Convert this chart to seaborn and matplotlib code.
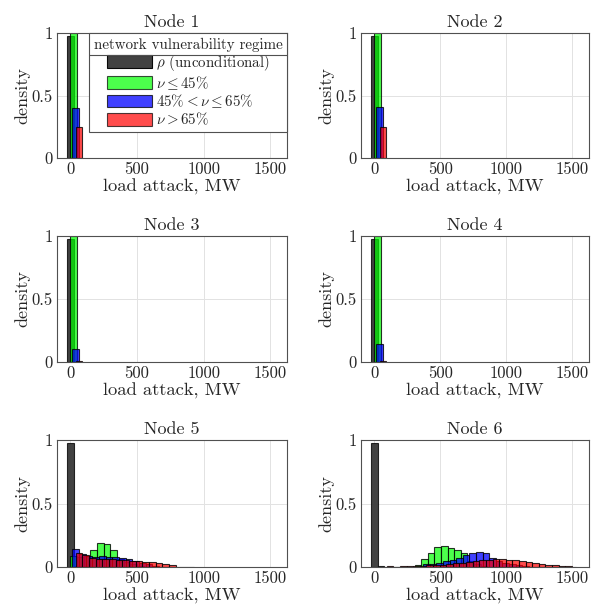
import numpy as np
import pandas as pd
import matplotlib
matplotlib.use("Agg")
import matplotlib.pyplot as plt
from matplotlib.patches import Patch
from matplotlib.lines import Line2D
import seaborn as sns

sns.set_style("whitegrid")
plt.rcParams["font.family"] = ["cmr10", "DejaVu Serif"]
plt.rcParams["mathtext.fontset"] = "cm"
plt.rcParams["axes.formatter.use_mathtext"] = True

# ---------------- data ----------------
BIN_W = 50
node_titles = ["Node 1", "Node 2", "Node 3", "Node 4", "Node 5", "Node 6"]
series_labels = [r"$\rho$ (unconditional)", r"$\nu \leq 45\%$",
                 r"$45\% < \nu \leq 65\%$", r"$\nu > 65\%$"]
legend_title = "network vulnerability regime"
x_ticks = [0, 500, 1000, 1500]
x_tick_labels = ["0", "500", "1000", "1500"]
y_ticks = [0, 0.5, 1]
y_tick_labels = ["0", "0.5", "1"]

# first bin left edge (MW) per node, and bin heights (probability)
gray_start = [-25, -25, -25, -25, -25, -25]
gray_vals = [
    [0.98], [0.98], [0.98], [0.98],
    [0.98, 0.006, 0.004, 0.003, 0.003, 0.003, 0.002, 0.002, 0.002, 0.002,
     0.002, 0.002, 0.002, 0.002, 0.002, 0.002, 0.002, 0.002, 0.002],
    [0.98, 0.008, 0.003, 0.002, 0.002, 0.002, 0.002, 0.002, 0.002, 0.002,
     0.002, 0.002, 0.002, 0.002, 0.002, 0.002, 0.002, 0.002, 0.002, 0.002,
     0.002, 0.002, 0.002, 0.002, 0.002, 0.002, 0.002, 0.002, 0.002, 0.002,
     0.002],
]
green_start = [0, 0, 0, 0, 0, 305]
green_vals = [
    [1.0], [1.0], [1.0], [1.0],
    [0.084, 0.08, 0.09, 0.137, 0.19, 0.185, 0.137, 0.06, 0.04, 0.02, 0.01],
    [0.015, 0.066, 0.11, 0.158, 0.163, 0.15, 0.137, 0.11, 0.05, 0.02, 0.01],
]
blue_start = [15, 15, 15, 15, 15, 370]
blue_vals = [
    [0.40], [0.41], [0.105], [0.14],
    [0.14, 0.103, 0.084, 0.076, 0.09, 0.082, 0.076, 0.068, 0.063, 0.045,
     0.03, 0.02, 0.01],
    [0.02, 0.025, 0.035, 0.045, 0.055, 0.07, 0.095, 0.108, 0.117, 0.112,
     0.07, 0.05, 0.035, 0.025, 0.015, 0.008],
]
red_start = [40, 40, 40, 40, 40, 95]
red_vals = [
    [0.25], [0.25], [0.008], [0.006],
    [0.113, 0.092, 0.074, 0.066, 0.063, 0.063, 0.055, 0.055, 0.05, 0.05,
     0.04, 0.04, 0.033, 0.022, 0.013],
    [0.006, 0.003, 0.005, 0.006, 0.008, 0.01, 0.012, 0.015, 0.018, 0.022,
     0.028, 0.034, 0.042, 0.048, 0.053, 0.057, 0.06, 0.06, 0.058, 0.052,
     0.046, 0.04, 0.032, 0.026, 0.018, 0.013, 0.008, 0.004],
]

# ---------------- style ----------------
face_colors = [(0.22, 0.22, 0.22), (0.0, 1.0, 0.0), (0.0, 0.0, 1.0), (1.0, 0.0, 0.0)]
face_alpha = [0.95, 0.7, 0.75, 0.7]
starts = [gray_start, green_start, blue_start, red_start]
values = [gray_vals, green_vals, blue_vals, red_vals]

W, H = 592, 612
fig = plt.figure(figsize=(W / 100, H / 100), dpi=100)
col_x = [(57, 287), (361, 589)]
row_y = [(33, 158), (236, 362), (440, 567)]

axes = []
for i in range(6):
    r, c = divmod(i, 2)
    x0, x1 = col_x[c]
    y0, y1 = row_y[r]
    ax = fig.add_axes([x0 / W, 1 - y1 / H, (x1 - x0) / W, (y1 - y0) / H])
    axes.append(ax)
    for s in range(4):
        v = [float(a) for a in values[s][i]]
        st = starts[s][i]
        edges = [float(st + BIN_W * k) for k in range(len(v) + 1)]
        centers = [st + BIN_W * (k + 0.5) for k in range(len(v))]
        df = pd.DataFrame({"load": centers, "p": v})
        sns.histplot(data=df, x="load", weights="p", bins=edges, stat="count",
                     ax=ax, color=face_colors[s], alpha=face_alpha[s],
                     edgecolor=(0, 0, 0, 0.8), linewidth=0.8)
    ax.set_xlim(-100, 1625)
    ax.set_ylim(0, 1)
    ax.set_xticks(x_ticks, labels=x_tick_labels)
    ax.set_yticks(y_ticks, labels=y_tick_labels)
    ax.tick_params(labelsize=12, direction="in", length=3, color="#404040", pad=3)
    ax.grid(True, color="#e2e2e2", linewidth=0.7)
    ax.set_axisbelow(True)
    for sp in ax.spines.values():
        sp.set_color("#505050")
        sp.set_linewidth(0.8)
    ax.set_title(node_titles[i], fontsize=13, pad=4)
    ax.set_xlabel("load attack, MW", fontsize=13.3, labelpad=1)
    ax.set_ylabel("density", fontsize=13, labelpad=1)

handles = [Patch(facecolor=face_colors[s], alpha=face_alpha[s],
                 edgecolor=(0, 0, 0, 0.8), linewidth=0.8) for s in range(4)]
leg = axes[0].legend(handles, series_labels, title=legend_title,
                     loc="upper right", borderaxespad=0, fancybox=False,
                     framealpha=1, edgecolor="#505050", fontsize=10.8,
                     title_fontsize=10.8, handlelength=3.0, handleheight=0.9,
                     labelspacing=0.06, handletextpad=0.25, borderpad=0.3)
leg.get_frame().set_linewidth(0.8)

fig.canvas.draw()
renderer = fig.canvas.get_renderer()
tb = leg.get_title().get_window_extent(renderer)
fb = leg.get_frame().get_window_extent(renderer)
yline = tb.y0 - 3
inv = fig.transFigure.inverted()
(px0, py), (px1, _) = inv.transform([(fb.x0, yline), (fb.x1, yline)])
fig.add_artist(Line2D([px0, px1], [py, py], transform=fig.transFigure,
                      color="#505050", linewidth=0.8, zorder=10))

fig.savefig("out.png", dpi=100)
